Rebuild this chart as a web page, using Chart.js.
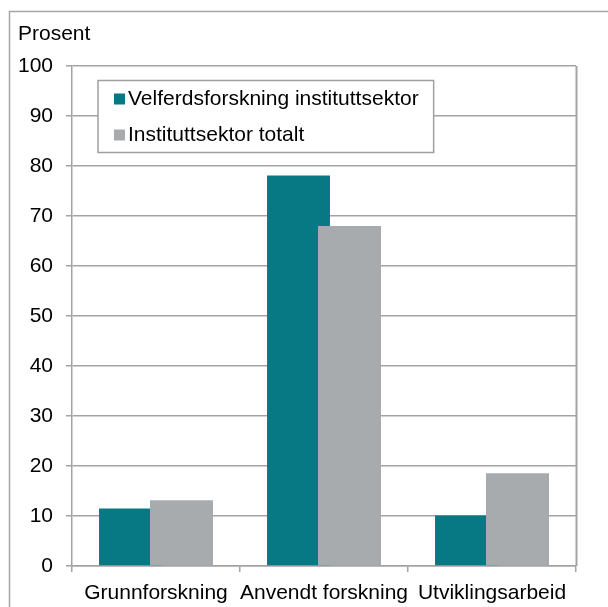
<!DOCTYPE html>
<html>
<head>
<meta charset="utf-8">
<title>FoU etter aktivitetstype</title>
<script src="https://cdn.jsdelivr.net/npm/chart.js@4.4.1/dist/chart.umd.min.js"></script>
<style>
  html, body { margin: 0; padding: 0; background: #fff; }
  #wrap { position: relative; width: 608px; height: 607px; }
</style>
</head>
<body>
<div id="wrap"><canvas id="fouChart"></canvas></div>
<script>
// Data (percent)
const categories = ['Grunnforskning', 'Anvendt forskning', 'Utviklingsarbeid'];
const velferdsforskning = [11.5, 78.1, 10.1];
const instituttsektorTotalt = [13.1, 68.0, 18.5];
const seriesNames = ['Velferdsforskning instituttsektor', 'Instituttsektor totalt'];
const yMin = 0, yMax = 100, yStep = 10;

const FONT = '"Liberation Sans", Arial, sans-serif';
const GRID = '#a3a3a3';

Chart.defaults.font.family = FONT;
Chart.defaults.font.size = 21;
Chart.defaults.color = '#000';

// frame, right plot edge, boxed legend inside the plot
const framePlugin = {
  id: 'frame',
  beforeDraw(chart) {
    const c = chart.ctx;
    c.save();
    c.fillStyle = '#fff';
    c.fillRect(0, 0, chart.width, chart.height);
    c.strokeStyle = '#a6a6a6';
    c.lineWidth = 1.5;
    c.strokeRect(9.5, 11.5, chart.width + 20, chart.height + 20);
    c.restore();
  },
  afterDatasetsDraw(chart) {
    // the grey series overlaps the teal one and sits in front of it
    chart.getDatasetMeta(1).controller.draw();

    const c = chart.ctx;
    const a = chart.chartArea;
    c.save();
    c.strokeStyle = GRID;
    c.lineWidth = 2;
    c.beginPath();
    c.moveTo(a.right + 0.5, a.top);
    c.lineTo(a.right + 0.5, a.bottom);
    c.stroke();

    // legend box
    c.font = '21px ' + FONT;
    const items = chart.data.datasets;
    const textW = Math.max(...items.map(d => c.measureText(d.label).width));
    const bx = a.left + 26, by = a.top + 14.5;
    const bw = 30 + textW + 15, bh = 72;
    c.fillStyle = '#fff';
    c.fillRect(bx, by, bw, bh);
    c.strokeStyle = '#a0a0a0';
    c.lineWidth = 1.5;
    c.strokeRect(bx, by, bw, bh);
    c.textBaseline = 'middle';
    c.textAlign = 'left';
    items.forEach((d, i) => {
      const cy = by + 18.5 + i * 36;
      c.fillStyle = d.backgroundColor;
      c.fillRect(bx + 16, cy - 5.5, 11, 11);
      c.fillStyle = '#000';
      c.fillText(d.label, bx + 30, cy);
    });
    c.restore();
  }
};

const ctx = document.getElementById('fouChart').getContext('2d');

const fouChart = new Chart(ctx, {
  type: 'bar',
  data: {
    labels: categories,
    datasets: [
      {
        label: seriesNames[0],
        data: velferdsforskning,
        backgroundColor: '#077985',
        borderWidth: 0,
        categoryPercentage: 0.607,
        barPercentage: 1.235 // bars overlap a little, like the original
      },
      {
        label: seriesNames[1],
        data: instituttsektorTotalt,
        backgroundColor: '#a8abae',
        borderWidth: 0,
        categoryPercentage: 0.607,
        barPercentage: 1.235
      }
    ]
  },
  options: {
    responsive: true,
    maintainAspectRatio: false,
    animation: false,
    layout: {
      padding: { left: 18, right: 32, top: 0, bottom: 0 }
    },
    plugins: {
      legend: { display: false },
      tooltip: { enabled: false },
      title: {
        display: true,
        text: 'Prosent',
        align: 'start',
        color: '#000',
        font: { size: 21, weight: 'normal' },
        padding: { top: 22, bottom: 18.8 }
      }
    },
    scales: {
      x: {
        grid: {
          display: true,
          drawOnChartArea: false, // only the small tick marks below the axis
          tickLength: 6,
          color: GRID,
          lineWidth: 1.5
        },
        border: { display: true, color: GRID, width: 1.5 },
        ticks: {
          autoSkip: false,
          maxRotation: 0,
          padding: 9,
          font: { size: 21 }
        },
        afterFit(scale) { scale.height = 41; }
      },
      y: {
        min: yMin,
        max: yMax,
        grid: {
          color: GRID,
          lineWidth: 1.5,
          tickLength: 6
        },
        border: { display: true, color: GRID, width: 1.5 },
        ticks: {
          stepSize: yStep,
          padding: 13,
          font: { size: 21 }
        },
        afterFit(scale) { scale.width = 54; }
      }
    }
  },
  plugins: [framePlugin]
});
</script>
</body>
</html>
